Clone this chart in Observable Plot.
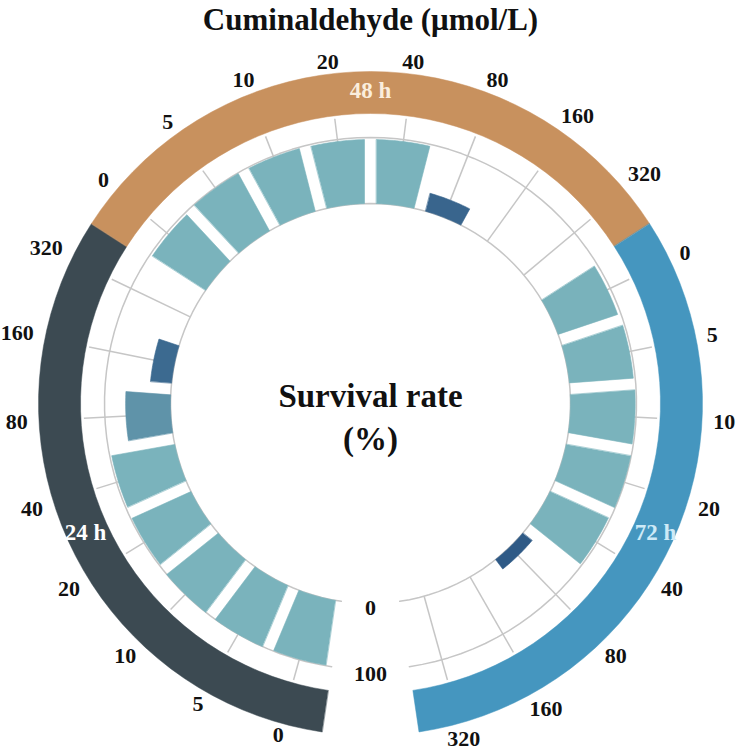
<!DOCTYPE html>
<html><head><meta charset="utf-8">
<script src="https://cdn.jsdelivr.net/npm/d3@7"></script>
<script src="https://cdn.jsdelivr.net/npm/@observablehq/plot@0.6"></script>
<style>body{margin:0;background:#fff}</style>
</head><body><div id="chart"></div>
<script>
// ---- data ----
const groups = ["24 h", "48 h", "72 h"];
const doses = ["0", "5", "10", "20", "40", "80", "160", "320"];
const survival24h = [99, 100, 100, 98, 97, 68, 32, 0];
const survival48h = [96, 99, 98, 97, 97, 28, 0, 0];
const survival72h = [95, 97, 98, 99, 97, 18, 0, 0];
const radialTicks = [0, 100];
const title = "Cuminaldehyde (μmol/L)";
const centerLines = ["Survival rate", "(%)"];

// ---- styles ----
const groupColors = ["#3c4a52", "#c8915e", "#4596bf"];
const groupLabelColors = ["#ffffff", "#fbeedd", "#cdeaf7"];
const serif = "Liberation Serif, Times New Roman, serif";

const series = [survival24h, survival48h, survival72h];
const rows = groups.flatMap((g, gi) => doses.map((d, di) => ({key: g + "|" + d, group: g, gi, dose: d, value: series[gi][di]})));

const step = 14.3;
const theta0 = 180 + (360 - (rows.length - 1) * step) / 2;
const angle = d3.scalePoint(rows.map(d => d.key), [theta0, theta0 + (rows.length - 1) * step]);
const radius = d3.scaleLinear([0, 100], [200, 266]);
const rad = a => a * Math.PI / 180;
const polar = (a, r) => ({x: r * Math.sin(rad(a)), y: -r * Math.cos(rad(a))});

function arcPts(a0, a1, r, n = 40) {
  return d3.range(n + 1).map(k => polar(a0 + (a1 - a0) * k / n, r));
}
function sector(a, r0, r1, gap) {
  const hw = r => step / 2 - Math.asin(gap / 2 / r) * 180 / Math.PI;
  return [...arcPts(a - hw(r1), a + hw(r1), r1, 16), ...arcPts(a + hw(r0), a - hw(r0), r0, 16)];
}

// bars
const barPts = rows.filter(d => d.value > 0).flatMap(d =>
  sector(angle(d.key), radius(0), radius(d.value), 12).map(p => ({...p, id: d.key, value: d.value})));

// outer group bands
const bandR0 = 290, bandR1 = 332;
const bandMarks = groups.map((g, gi) => {
  const ks = rows.filter(d => d.gi === gi).map(d => d.key);
  const a0 = angle(ks[0]) - step / 2, a1 = angle(ks[ks.length - 1]) + step / 2;
  const pts = [...arcPts(a0, a1, bandR1), ...arcPts(a1, a0, bandR0)];
  return Plot.line(pts, {x: "x", y: "y", fill: groupColors[gi], stroke: groupColors[gi], strokeWidth: 0.5, curve: "linear-closed"});
});
const groupLabels = groups.map((g, gi) => {
  const ks = rows.filter(d => d.gi === gi).map(d => d.key);
  const a = (angle(ks[0]) + angle(ks[ks.length - 1])) / 2;
  return {...polar(a, (bandR0 + bandR1) / 2 + 2), text: g, color: groupLabelColors[gi], gi};
});

// grid
const aStart = angle(rows[0].key) - step / 2, aEnd = angle(rows[rows.length - 1].key) + step / 2;
const gridArcs = radialTicks.flatMap(t => arcPts(aStart, aEnd, radius(t), 120).map(p => ({...p, t})));
const spokes = rows.map(d => {
  const a = angle(d.key);
  const p0 = polar(a, radius(0)), p1 = polar(a, 287);
  return {x1: p0.x, y1: p0.y, x2: p1.x, y2: p1.y};
});

// dose labels
const doseLabels = rows.map(d => {
  const a = angle(d.key);
  const ext = Math.abs(Math.sin(rad(a))) * (d.dose.length * 6 + 4) + Math.abs(Math.cos(rad(a))) * 4;
  return {...polar(a, 338 + ext), text: d.dose};
});
const radialLabels = radialTicks.map(t => ({...polar(180, radius(t) + 4), text: String(t)}));

const chart = Plot.plot({
  width: 736, height: 750,
  margin: 0,
  x: {domain: [-370, 366], range: [0, 736], axis: null},
  y: {domain: [-403, 347], range: [0, 750], axis: null},
  color: {type: "linear", domain: [18, 96], range: ["#2f5a86", "#7ab3bc"], clamp: true},
  style: {background: "#fff"},
  marks: [
    ...bandMarks,
    Plot.link(spokes, {x1: "x1", y1: "y1", x2: "x2", y2: "y2", stroke: "#c6c6c6", strokeWidth: 1.5}),
    Plot.line(gridArcs, {x: "x", y: "y", z: "t", stroke: "#c6c6c6", strokeWidth: 1.5}),
    Plot.line(barPts, {x: "x", y: "y", z: "id", fill: "value", stroke: "value", strokeWidth: 0.6, curve: "linear-closed"}),
    Plot.text(doseLabels, {x: "x", y: "y", text: "text", fontSize: 22, fontWeight: "bold", fontFamily: serif, fill: "#111"}),
    Plot.text(radialLabels, {x: "x", y: "y", text: "text", fontSize: 22, fontWeight: "bold", fontFamily: serif, fill: "#111"}),
    Plot.text(groupLabels, {x: "x", y: "y", text: "text", fill: "color", fontSize: 23, fontWeight: "bold", fontFamily: serif}),
    Plot.text([centerLines[0]], {x: 0, y: -7, text: d => d, fontSize: 33, fontWeight: "bold", fontFamily: serif, fill: "#111"}),
    Plot.text([centerLines[1]], {x: 0, y: 36, text: d => d, fontSize: 33, fontWeight: "bold", fontFamily: serif, fill: "#111"}),
    Plot.text([title], {x: 0, y: -383, text: d => d, fontSize: 31, fontWeight: "bold", fontFamily: serif, fill: "#111"})
  ]
});
document.getElementById("chart").append(chart);
</script>
</body></html>
